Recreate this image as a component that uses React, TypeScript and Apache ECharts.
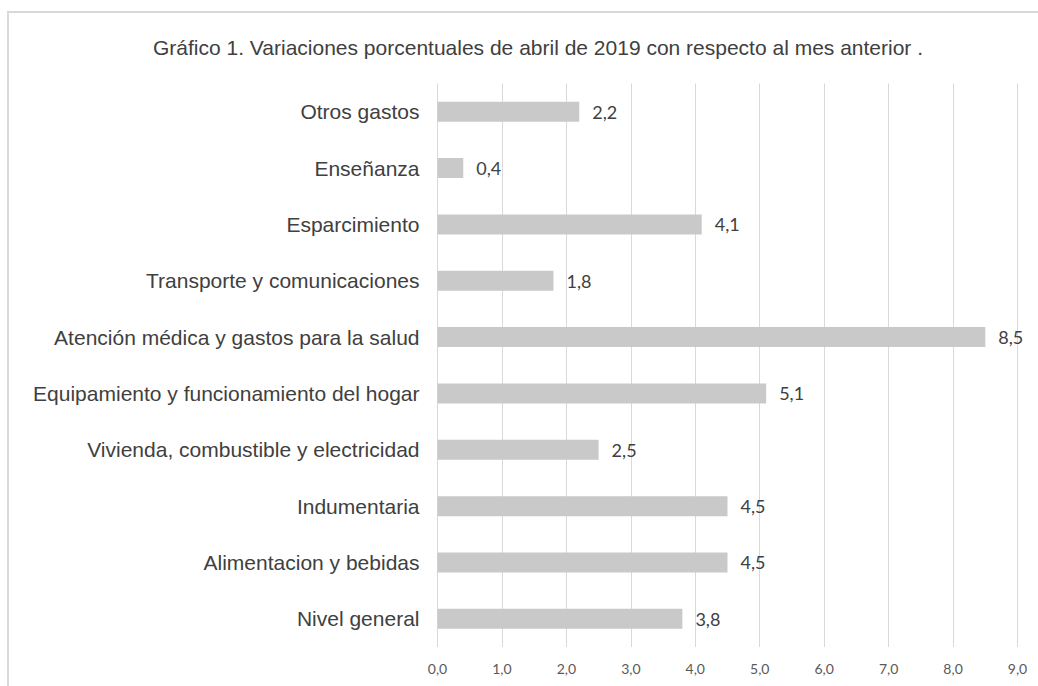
import React, { useEffect, useRef } from "react";
import * as echarts from "echarts";

const categories = [
  "Nivel general",
  "Alimentacion y bebidas",
  "Indumentaria",
  "Vivienda, combustible y electricidad",
  "Equipamiento y funcionamiento del hogar",
  "Atención médica y gastos para la salud",
  "Transporte y comunicaciones",
  "Esparcimiento",
  "Enseñanza",
  "Otros gastos",
];
const values = [3.8, 4.5, 4.5, 2.5, 5.1, 8.5, 1.8, 4.1, 0.4, 2.2];
const titleText = "Gráfico 1. Variaciones porcentuales de abril de 2019 con respecto al mes anterior .";

const fmt = (v: number) => v.toFixed(1).replace(".", ",");

export default function App() {
  const ref = useRef<HTMLDivElement>(null);
  useEffect(() => {
    if (!ref.current) return;
    const chart = echarts.init(ref.current, undefined, { renderer: "svg" });
    chart.setOption({
      animation: false,
      backgroundColor: "#ffffff",
      title: {
        text: titleText,
        left: 533,
        textAlign: "center",
        top: 32,
        textStyle: {
          fontFamily: "Liberation Sans, Arial, sans-serif",
          fontSize: 21,
          fontWeight: "normal",
          color: "#404040",
        },
      },
      graphic: [
        {
          type: "rect",
          shape: { x: 8, y: 12, width: 1100, height: 800 },
          style: { fill: "none", stroke: "#d9d9d9", lineWidth: 2 },
          silent: true,
        },
      ],
      grid: { left: 437.5, right: 20.5, top: 83.5, bottom: 39, containLabel: false },
      xAxis: {
        type: "value",
        min: 0,
        max: 9,
        interval: 1,
        axisLine: { show: false },
        axisTick: { show: false },
        splitLine: { show: true, lineStyle: { color: "#d9d9d9", width: 1 } },
        axisLabel: {
          formatter: (v: number) => fmt(v),
          fontFamily: "Lato, Open Sans, sans-serif",
          fontSize: 14,
          color: "#595959",
          margin: 14,
        },
      },
      yAxis: {
        type: "category",
        data: categories,
        axisLine: { show: false },
        axisTick: { show: false },
        axisLabel: {
          fontFamily: "Liberation Sans, Arial, sans-serif",
          fontSize: 21,
          color: "#404040",
          margin: 18,
        },
      },
      series: [
        {
          type: "bar",
          data: values,
          barWidth: 20,
          itemStyle: { color: "#c9c9c9" },
          label: {
            show: true,
            position: "right",
            distance: 13,
            formatter: (p: any) => fmt(p.value),
            fontFamily: "Lato, Open Sans, sans-serif",
            fontSize: 18,
            color: "#404040",
          },
        },
      ],
    });
    return () => chart.dispose();
  }, []);
  return (
    <div
      ref={ref}
      style={{ position: "absolute", left: 0, top: 0, width: 1038, height: 686 }}
    />
  );
}
